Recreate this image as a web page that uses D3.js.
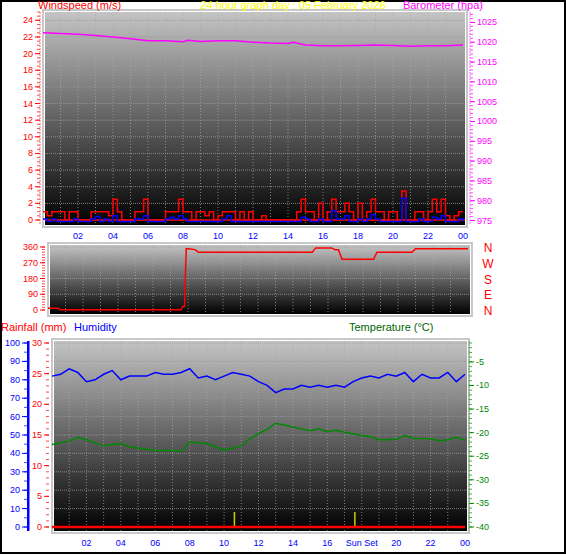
<!DOCTYPE html>
<html><head><meta charset="utf-8">
<script src="https://cdn.jsdelivr.net/npm/d3@7"></script>
<style>body{margin:0;background:#fff}svg{font-family:"Liberation Sans",Arial,sans-serif}</style>
</head><body><div id="chart"></div>
<script>
var title = "24 hour graph day : 05 February 2026";
var hourTicks = [2, 4, 6, 8, 10, 12, 14, 16, 18, 20, 22, 24];

// wind every 15 minutes (m/s)
var windGust = [1,0.5,1,1, 1,0,1,1, 0,0,0,1, 1,1,1,0.5, 2.5,1,0,0, 0,1,1,2.5, 0,0,0,0, 1,1,1,2.5,
  1,1,0,1, 1,0.5,1,0, 0.5,1,1,1, 0,1,0,1, 0,0,0.5,0, 0,0,0,0, 0,0,1,2.5, 1,1,0,2,
  0,1,2.5,1, 1,2,1,0, 2,0,1,2.5, 1,1,0,1, 1,0,3.5,0, 0,1,1,0, 1,2.5,1,2.5, 0.5,0,0.5,1, 1];
var windAvg = [0.3,0,0.3,0, 0,0,0,0.3, 0,0,0,0.3, 0.6,0,0.3,0, 0.7,0,0,0, 0,0.3,0.3,0.7, 0,0,0,0, 0.3,0.5,0.3,0.7,
  0.3,0,0,0, 0,0,0,0, 0,0.3,0.7,0, 0,0,0,0, 0,0,0,0, 0,0,0,0, 0,0,0,0.5, 0.3,0,0,0.3,
  0,0,1.3,0.3, 0.3,0.7,0,0, 0.3,0,0.3,0.8, 0.3,0,0,0, 0,0,2.8,0, 0,0,0.3,0, 0,0.5,0.3,0.7, 0,0,0,0.3, 0];

var baroHours = [0, 1, 2, 3, 4, 5, 6, 7, 8, 8.3, 9, 10, 11, 12, 13, 14, 14.3, 15, 16, 17, 18, 19, 20, 21, 22, 23, 24];
var baroVals = [1022.4, 1022.2, 1022.0, 1021.7, 1021.3, 1020.9, 1020.4, 1020.4, 1020.1, 1020.5, 1020.2, 1020.4, 1020.4, 1020.0, 1019.8, 1019.7, 1020.0, 1019.3, 1019.1, 1019.1, 1019.2, 1019.3, 1019.2, 1019.0, 1019.1, 1019.1, 1019.3];

var dirHours = [0, 0.6, 0.7, 7.6, 7.7, 7.8, 7.9, 8.0, 8.4, 8.6, 15.1, 15.3, 16.2, 16.4, 16.6, 16.8, 18.6, 18.8, 20.8, 21.0, 24];
var dirVals = [10, 10, 2, 2, 20, 20, 350, 350, 345, 330, 330, 355, 355, 345, 345, 290, 290, 330, 330, 350, 350];

var humHours = [0,0.5,1,1.5,2,2.5,3,3.5,4,4.5,5,5.5,6,6.5,7,7.5,8,8.5,9,9.5,10,10.5,11,11.5,12,12.5,13,13.5,14,14.5,15,15.5,16,16.5,17,17.5,18,18.5,19,19.5,20,20.5,21,21.5,22,22.5,23,23.5,24];
var humVals = [82,83,86,84,79,80,83,85,80,82,82,82,84,83,83,84,86,81,82,80,82,84,83,82,79,77,73,75,75,77,76,77,76,77,76,79,81,82,81,83,82,84,79,83,81,81,84,79,83];
var tempHours = [0,1,1.5,2,3,3.5,4,4.5,6,7,7.5,8,9,10,10.5,11,11.5,12,12.5,13,14,14.5,15,15.5,16,16.5,17,18,18.5,19,19.5,20,20.5,21,22,22.5,23,23.5,24];
var tempVals = [-22.5,-21.8,-21,-21.5,-22.8,-22.5,-22.3,-23,-23.8,-23.8,-24,-22,-22.3,-23.7,-23.3,-22.8,-21.3,-20.2,-19.3,-18,-18.8,-19.2,-19.6,-19.2,-19.8,-19.5,-19.9,-20.6,-20.8,-21.5,-21.5,-21.4,-20.6,-21.2,-21.3,-21.7,-21.5,-21,-21.6];
var rainVals = [0, 0];
var sunHours = [10.6, 17.6];

var W = 566, H = 555;
var svg = d3.select("#chart").append("svg").attr("width", W).attr("height", H);
svg.append("rect").attr("x", 1).attr("y", 1).attr("width", W - 2).attr("height", H - 3)
  .attr("fill", "#fff").attr("stroke", "#000").attr("stroke-width", 2);

var defs = svg.append("defs");
var grad = defs.append("linearGradient").attr("id", "bg").attr("x1", 0).attr("x2", 0).attr("y1", 0).attr("y2", 1);
grad.append("stop").attr("offset", "0%").attr("stop-color", "#c4c4c4");
grad.append("stop").attr("offset", "100%").attr("stop-color", "#000");

function panel(x0, x1, y0, y1) {
  svg.append("rect").attr("x", x0).attr("y", y0).attr("width", x1 - x0).attr("height", y1 - y0).attr("fill", "url(#bg)");
  svg.append("rect").attr("x", x0 - 2).attr("y", y0 - 2).attr("width", x1 - x0 + 4).attr("height", y1 - y0 + 4)
    .attr("fill", "none").attr("stroke", "#c8c8c8").attr("stroke-width", 2);
  var x = d3.scaleLinear().domain([0, 24]).range([x0 - 2, x1 - 2]);
  var g = svg.append("g");
  d3.range(1, 24).forEach(function (h) {
    g.append("line").attr("x1", x(h)).attr("x2", x(h)).attr("y1", y0).attr("y2", y1)
      .attr("stroke", "#aaa").attr("stroke-dasharray", "1,2").attr("opacity", 0.7);
  });
  return x;
}
function hgrid(y, vals, x0, x1) {
  vals.forEach(function (v) {
    svg.append("line").attr("x1", x0).attr("x2", x1).attr("y1", y(v)).attr("y2", y(v))
      .attr("stroke", "#999").attr("stroke-dasharray", "1,1").attr("opacity", 0.8);
  });
}
function xLabels(x, y, labels) {
  svg.append("g").selectAll("text").data(hourTicks).join("text")
    .attr("x", function (d) { return x(d); }).attr("y", y).attr("text-anchor", "middle")
    .attr("font-size", 9).attr("fill", "#00f").text(function (d) {
      return labels && labels[d] ? labels[d] : d3.format("02")(d % 24);
    });
}
function axis(scale, ticks, xPos, side, color, fmt, minor) {
  var g = svg.append("g");
  var dom = scale.domain();
  d3.range(dom[0], dom[1] + 0.001, minor).forEach(function (v) {
    g.append("line").attr("x1", xPos).attr("x2", xPos + (side < 0 ? -3 : 3)).attr("y1", scale(v)).attr("y2", scale(v))
      .attr("stroke", color).attr("opacity", 0.7);
  });
  ticks.forEach(function (v) {
    g.append("line").attr("x1", xPos).attr("x2", xPos + (side < 0 ? -5 : 5)).attr("y1", scale(v)).attr("y2", scale(v)).attr("stroke", color);
    g.append("text").attr("x", xPos + (side < 0 ? -7 : 7)).attr("y", scale(v) + 3)
      .attr("text-anchor", side < 0 ? "end" : "start").attr("font-size", 9).attr("fill", color).text(fmt ? fmt(v) : v);
  });
}

// ---- panel 1: wind + barometer
var x1 = panel(45, 465, 12, 225);
var yWind = d3.scaleLinear().domain([0, 25]).range([220, 12]);
var yBaro = d3.scaleLinear().domain([975, 1027]).range([220.5, 14.5]);
hgrid(yWind, d3.range(0, 25, 2), 45, 465);
axis(yWind, d3.range(0, 25, 2), 40, -1, "#f00", null, 0.5);
svg.append("line").attr("x1", 40).attr("x2", 40).attr("y1", 12).attr("y2", 225).attr("stroke", "#f66").attr("stroke-dasharray", "2,1");
axis(yBaro, d3.range(975, 1026, 5), 470, 1, "#f0f", null, 1);
svg.append("line").attr("x1", 470).attr("x2", 470).attr("y1", 12).attr("y2", 225).attr("stroke", "#f6f").attr("stroke-dasharray", "2,1");
var qx = function (d, i) { return x1(i / 4); };
svg.append("line").attr("x1", 45).attr("x2", 465).attr("y1", yWind(0)).attr("y2", yWind(0)).attr("stroke", "#f00").attr("stroke-width", 1.5);
svg.append("path").datum(windGust).attr("fill", "none").attr("stroke", "#f00").attr("stroke-width", 1.5)
  .attr("d", d3.line().curve(d3.curveStepAfter).x(qx).y(function (d) { return yWind(d); }));
svg.append("path").datum(windAvg).attr("fill", "none").attr("stroke", "#00f").attr("stroke-width", 1.5)
  .attr("d", d3.line().curve(d3.curveStepAfter).x(qx).y(function (d) { return yWind(d) + 1.5; }));
svg.append("path").datum(baroVals).attr("fill", "none").attr("stroke", "#f0f").attr("stroke-width", 1.5)
  .attr("d", d3.line().x(function (d, i) { return x1(baroHours[i]); }).y(function (d) { return yBaro(d); }));
xLabels(x1, 239);
svg.append("text").attr("x", 38).attr("y", 9).attr("font-size", 11).attr("fill", "#f00").text("Windspeed (m/s)");
svg.append("text").attr("x", 293).attr("y", 9).attr("text-anchor", "middle").attr("font-size", 11).attr("fill", "#ff0").text(title);
svg.append("text").attr("x", 483).attr("y", 9).attr("text-anchor", "end").attr("font-size", 11).attr("fill", "#f0f").text("Barometer (hpa)");

// ---- panel 2: wind direction
var x2 = panel(50, 470, 245, 314);
var yDir = d3.scaleLinear().domain([0, 360]).range([310, 247]);
hgrid(yDir, [90, 180, 270, 360], 50, 470);
axis(yDir, [0, 90, 180, 270, 360], 45, -1, "#f00", null, 15);
svg.append("path").datum(dirVals).attr("fill", "none").attr("stroke", "#f00").attr("stroke-width", 1.5)
  .attr("d", d3.line().x(function (d, i) { return x2(dirHours[i]); }).y(function (d) { return yDir(d); }));
svg.append("g").selectAll("text").data(["N", "E", "S", "W", "N"]).join("text")
  .attr("x", 488).attr("y", function (d, i) { return yDir(i * 90) + 5; }).attr("text-anchor", "middle")
  .attr("font-size", 12).attr("fill", "#f00").text(function (d) { return d; });

// ---- panel 3: rain, humidity, temperature
svg.append("text").attr("x", 1).attr("y", 331).attr("font-size", 11).attr("fill", "#f00").text("Rainfall (mm)");
svg.append("text").attr("x", 74).attr("y", 331).attr("font-size", 11).attr("fill", "#00f").text("Humidity");
svg.append("text").attr("x", 349).attr("y", 331).attr("font-size", 11).attr("fill", "#060").text("Temperature (°C)");
var x3 = panel(54, 467, 341, 531);
var yRain = d3.scaleLinear().domain([0, 30]).range([527, 343]);
var yHum = d3.scaleLinear().domain([0, 100]).range([527, 343]);
var yTemp = d3.scaleLinear().domain([-40, -1]).range([527, 343]);
hgrid(yHum, d3.range(10, 101, 10), 54, 467);
svg.append("rect").attr("x", 27).attr("y", 341).attr("width", 2.5).attr("height", 190).attr("fill", "#00f");
axis(yHum, d3.range(0, 101, 10), 27, -1, "#00f", null, 5);
axis(yRain, d3.range(0, 31, 5), 49, -1, "#f00", null, 1);
axis(yTemp, d3.range(-40, -4, 5), 469, 1, "#080", null, 1);
svg.append("line").attr("x1", 469).attr("x2", 469).attr("y1", 341).attr("y2", 531).attr("stroke", "#6a6").attr("stroke-dasharray", "2,1");
sunHours.forEach(function (h) {
  svg.append("line").attr("x1", x3(h)).attr("x2", x3(h)).attr("y1", 512).attr("y2", 527).attr("stroke", "#cc0").attr("stroke-width", 1.5);
});
svg.append("path").datum(rainVals).attr("fill", "none").attr("stroke", "#f00").attr("stroke-width", 2.5)
  .attr("d", d3.line().x(function (d, i) { return x3(i * 24); }).y(function (d) { return yRain(d); }));
svg.append("path").datum(humVals).attr("fill", "none").attr("stroke", "#00f").attr("stroke-width", 1.5)
  .attr("d", d3.line().x(function (d, i) { return x3(humHours[i]); }).y(function (d) { return yHum(d); }));
svg.append("path").datum(tempVals).attr("fill", "none").attr("stroke", "#080").attr("stroke-width", 1.5)
  .attr("d", d3.line().x(function (d, i) { return x3(tempHours[i]); }).y(function (d) { return yTemp(d); }));
xLabels(x3, 546, {18: "Sun Set"});
</script></body></html>
